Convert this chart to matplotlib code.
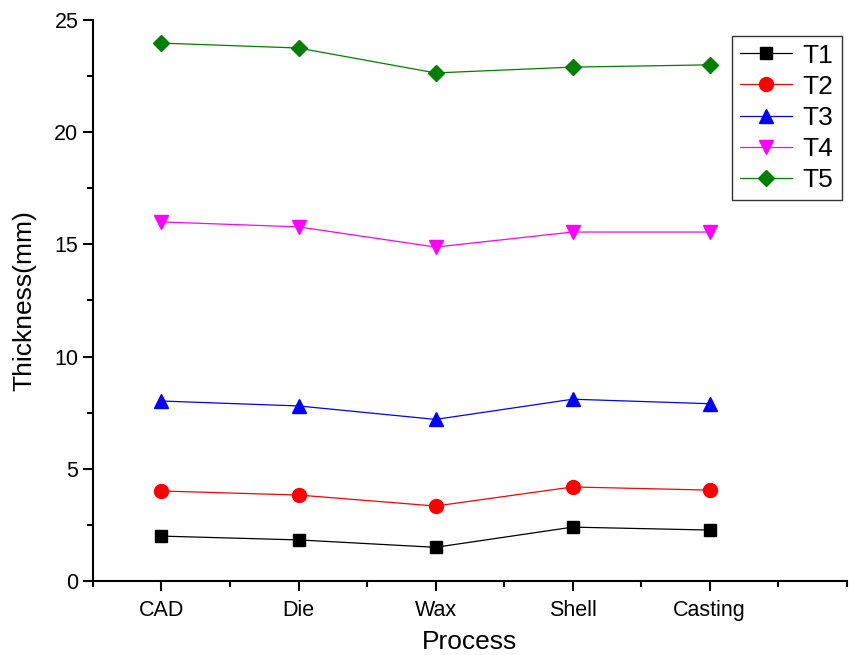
import matplotlib
matplotlib.use("Agg")
import matplotlib.pyplot as plt
from matplotlib.ticker import MultipleLocator

plt.rcParams['font.family'] = ['Liberation Sans', 'DejaVu Sans']

processes = ["CAD", "Die", "Wax", "Shell", "Casting"]
T1 = [2.0, 1.83, 1.5, 2.4, 2.27]
T2 = [4.01, 3.83, 3.34, 4.19, 4.05]
T3 = [8.02, 7.8, 7.2, 8.1, 7.9]
T4 = [16.0, 15.78, 14.88, 15.55, 15.55]
T5 = [23.97, 23.75, 22.64, 22.9, 23.0]
series_names = ["T1", "T2", "T3", "T4", "T5"]

fig = plt.figure(figsize=(8.49, 6.55), dpi=100)
ax = fig.add_axes([0.1095, 0.113, 0.8877, 0.8565])

x = list(range(1, len(processes) + 1))
styles = [("black", "s", 9), ("red", "o", 10), ("blue", "^", 10), ("magenta", "v", 10), ("green", "D", 8.5)]
for name, ys, (c, m, ms) in zip(series_names, [T1, T2, T3, T4, T5], styles):
    ax.plot(x, ys, color=c, marker=m, markersize=ms, linewidth=0.9, label=name)

ax.set_xlim(0.5, 6)
ax.set_ylim(0, 25)
ax.set_xticks(x)
ax.set_xticklabels(processes)
ax.xaxis.set_minor_locator(MultipleLocator(0.5))
ax.yaxis.set_major_locator(MultipleLocator(5))
ax.yaxis.set_minor_locator(MultipleLocator(2.5))
ax.tick_params(which='major', direction='out', length=7.5, width=1.5, labelsize=15.5)
ax.tick_params(which='minor', direction='out', length=4, width=1.5)
ax.tick_params(axis='x', pad=6)
ax.tick_params(axis='y', pad=3)
for s in ['top', 'right']:
    ax.spines[s].set_visible(False)
for s in ['left', 'bottom']:
    ax.spines[s].set_linewidth(1.5)

ax.set_xlabel("Process", fontsize=19, labelpad=7)
ax.set_ylabel("Thickness(mm)", fontsize=19, labelpad=13)

leg = ax.legend(loc='upper right', bbox_to_anchor=(0.9934, 0.972), borderaxespad=0,
                fontsize=19, frameon=True,
                fancybox=False, edgecolor='black', handlelength=2.0, labelspacing=0.27,
                borderpad=0.3, handletextpad=0.4)
leg.get_frame().set_linewidth(1.0)

fig.savefig("out.png", dpi=100)
